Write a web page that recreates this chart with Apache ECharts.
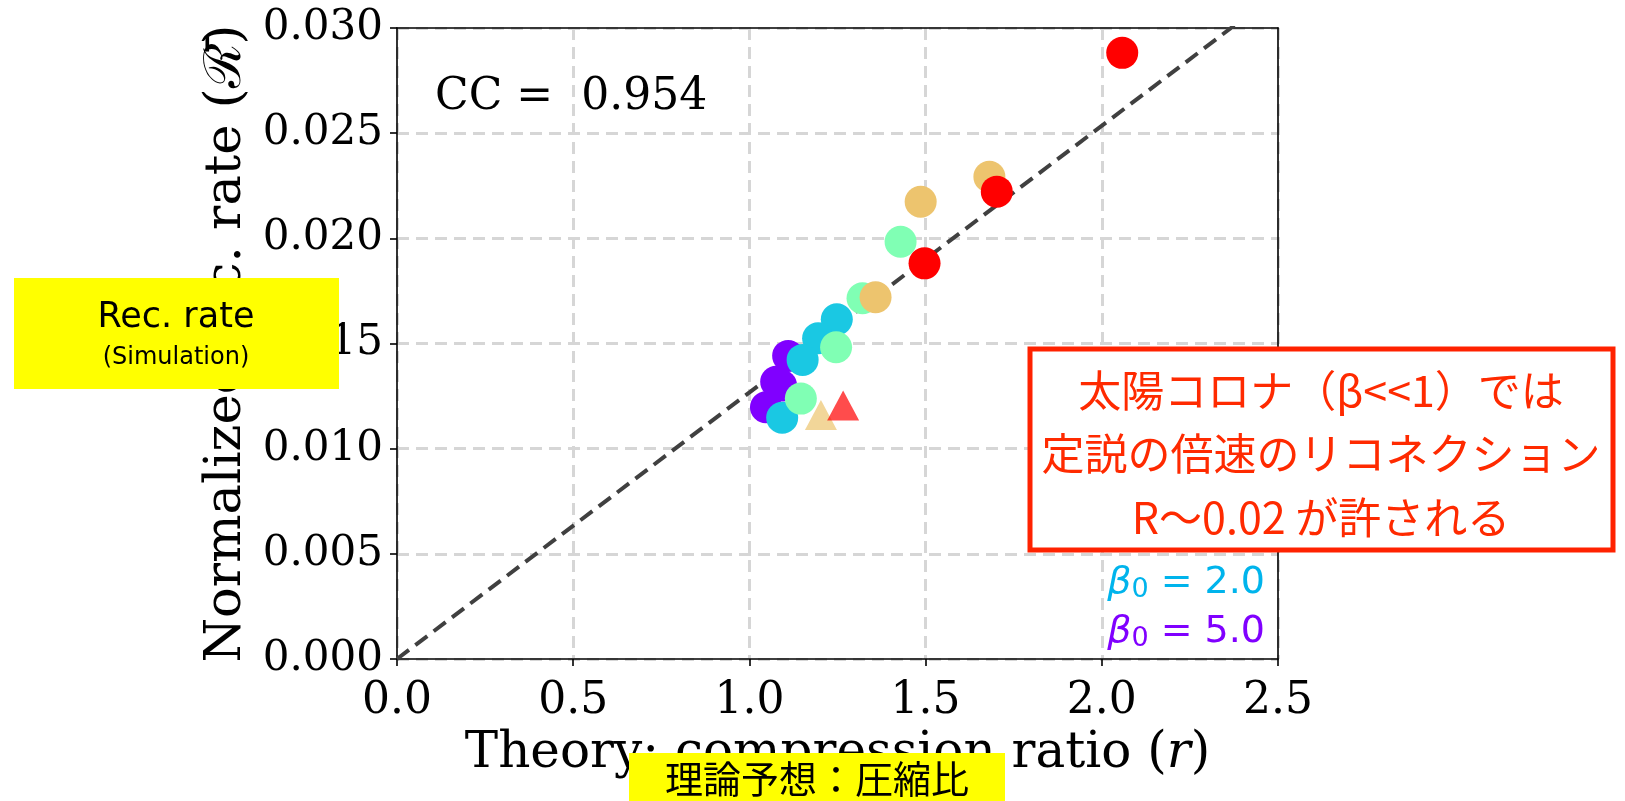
<!DOCTYPE html>
<html>
<head>
<meta charset="utf-8">
<script src="https://cdn.jsdelivr.net/npm/echarts@6/dist/echarts.min.js"></script>
<style>
html,body{margin:0;padding:0;background:#fff;}
#chart{width:1625px;height:801px;}
</style>
</head>
<body>
<div id="chart"></div>
<script>
// ---- data ----
const xTicks = [0.0, 0.5, 1.0, 1.5, 2.0, 2.5];
const yTicks = [0.000, 0.005, 0.010, 0.015, 0.020, 0.025, 0.030];
const purplePts = [[1.110,0.01441],[1.076,0.01318],[1.090,0.01300],[1.047,0.01197]];
const cyanPts   = [[1.248,0.01615],[1.195,0.01525],[1.151,0.01422],[1.093,0.01147]];
const greenPts  = [[1.429,0.01984],[1.321,0.01715],[1.246,0.01482],[1.146,0.01238]];
const tanPts    = [[1.681,0.02293],[1.486,0.02174],[1.358,0.01720]];
const redPts    = [[2.058,0.02882],[1.702,0.02222],[1.497,0.01881]];
const tanTri    = [[1.203,0.01160]];
const redTri    = [[1.266,0.01205]];
const fitLine   = [[0,0],[2.5,0.03169]];
const ccText = 'CC =  0.954';
const legendLabels = ['2.0','5.0'];
const boxLines = ['太陽コロナ（β<<1）では','定説の倍速のリコネクション','R〜0.02 が許される'];

const serif = 'DejaVu Serif';
const chart = echarts.init(document.getElementById('chart'));

function scat(name, data, color, symbol, size, opacity){
  return {name, type:'scatter', data, symbol, symbolSize:size,
    itemStyle:{color, opacity}, z:3, silent:true};
}
function legendText(label, color, y){
  return {type:'text', z:50, silent:true, x:1265, y:y,
    style:{text:'{b|β}{s|0}{t| = '+label+'}', align:'right', verticalAlign:'middle',
      rich:{b:{fontFamily:'DejaVu Sans', fontStyle:'italic', fontSize:38, fill:color},
            s:{fontFamily:'DejaVu Sans', fontSize:27, fill:color, padding:[14,0,0,0]},
            t:{fontFamily:'DejaVu Sans', fontSize:38, fill:color}}}};
}

const option = {
  animation:false,
  backgroundColor:'#ffffff',
  grid:{left:397, right:347, top:28, bottom:142, containLabel:false},
  xAxis:[{
    type:'value', min:xTicks[0], max:xTicks[xTicks.length-1], interval:0.5,
    position:'bottom',
    name:'Theory: compression ratio ({i|r})', nameLocation:'middle', nameGap:63,
    nameTextStyle:{fontFamily:serif, fontSize:50, color:'#000', verticalAlign:'top',
      rich:{i:{fontFamily:serif, fontSize:50, fontStyle:'italic', color:'#000'}}},
    axisLine:{show:true, onZero:false, lineStyle:{color:'#000', width:1.6}},
    axisTick:{show:true, inside:false, length:7, lineStyle:{color:'#000', width:1.6}},
    axisLabel:{fontFamily:serif, fontSize:44, color:'#000', margin:21,
      formatter:v=>v.toFixed(1)},
    splitLine:{show:true, lineStyle:{color:'#d6d6d6', width:3, type:[12,7]}}
  },{
    type:'value', min:0, max:2.5, position:'top',
    axisLine:{show:true, onZero:false, lineStyle:{color:'#000', width:1.6}},
    axisTick:{show:false}, axisLabel:{show:false}, splitLine:{show:false}
  }],
  yAxis:[{
    type:'value', min:yTicks[0], max:yTicks[yTicks.length-1], interval:0.005,
    position:'left',
    name:'Normalized rec. rate (ℛ̄)', nameLocation:'middle', nameGap:141, nameRotate:90,
    nameTextStyle:{fontFamily:serif, fontSize:51, color:'#000'},
    axisLine:{show:true, onZero:false, lineStyle:{color:'#000', width:1.6}},
    axisTick:{show:true, inside:false, length:7, lineStyle:{color:'#000', width:1.6}},
    axisLabel:{fontFamily:serif, fontSize:42, color:'#000', margin:14,
      formatter:v=>v.toFixed(3)},
    splitLine:{show:true, lineStyle:{color:'#d6d6d6', width:3, type:[12,7]}}
  },{
    type:'value', min:0, max:0.03, position:'right',
    axisLine:{show:true, onZero:false, lineStyle:{color:'#000', width:1.6}},
    axisTick:{show:false}, axisLabel:{show:false}, splitLine:{show:false}
  }],
  series:[
    {name:'fit', type:'line', data:fitLine, symbol:'none', clip:true, z:2, silent:true,
      lineStyle:{color:'#404040', width:4, type:[15,8]}},
    scat('b5', purplePts, '#8000ff', 'circle', 32, 1),
    scat('b2', cyanPts, '#1ac8e3', 'circle', 32, 1),
    scat('b1', greenPts, '#80ffb4', 'circle', 32, 1),
    scat('b05', tanPts, '#edc46e', 'circle', 32, 1),
    scat('b01', redPts, '#ff0000', 'circle', 32, 1),
    scat('triTan', tanTri, '#edc46e', 'triangle', [32,30], 0.7),
    scat('triRed', redTri, '#ff0000', 'triangle', [32,30], 0.7)
  ],
  graphic:[
    {type:'text', left:435, top:76, z:50, silent:true,
      style:{text:ccText, fontFamily:serif, fontSize:44, fill:'#000'}},
    legendText(legendLabels[0], '#00b4ec', 583),
    legendText(legendLabels[1], '#8000ff', 632),
    // left yellow box
    {type:'rect', z:60, silent:true, shape:{x:14, y:278, width:325, height:111},
      style:{fill:'#ffff00'}},
    {type:'text', z:61, silent:true, x:176, y:318,
      style:{text:'Rec. rate', fontFamily:'DejaVu Sans', fontSize:35, fill:'#000', align:'center', verticalAlign:'middle'}},
    {type:'text', z:61, silent:true, x:176, y:358,
      style:{text:'(Simulation)', fontFamily:'DejaVu Sans', fontSize:24, fill:'#000', align:'center', verticalAlign:'middle'}},
    // bottom yellow box
    {type:'rect', z:60, silent:true, shape:{x:629, y:753, width:376, height:60},
      style:{fill:'#ffff00'}},
    {type:'text', z:61, silent:true, x:817, y:779,
      style:{text:'理論予想：圧縮比', fontFamily:'Noto Sans CJK JP', fontSize:38, fill:'#000', align:'center', verticalAlign:'middle'}},
    // red box
    {type:'rect', z:70, silent:true, shape:{x:1030, y:349, width:583, height:201},
      style:{fill:'#ffffff', stroke:'#ff2200', lineWidth:5}},
    {type:'text', z:71, silent:true, x:1321, y:391,
      style:{text:boxLines[0], fontFamily:'Noto Sans CJK JP', fontSize:43, fill:'#ff2a00', align:'center', verticalAlign:'middle'}},
    {type:'text', z:71, silent:true, x:1321, y:454,
      style:{text:boxLines[1], fontFamily:'Noto Sans CJK JP', fontSize:43, fill:'#ff2a00', align:'center', verticalAlign:'middle'}},
    {type:'text', z:71, silent:true, x:1321, y:518,
      style:{text:boxLines[2], fontFamily:'Noto Sans CJK JP', fontSize:43, fill:'#ff2a00', align:'center', verticalAlign:'middle'}}
  ]
};
chart.setOption(option);
</script>
</body>
</html>
